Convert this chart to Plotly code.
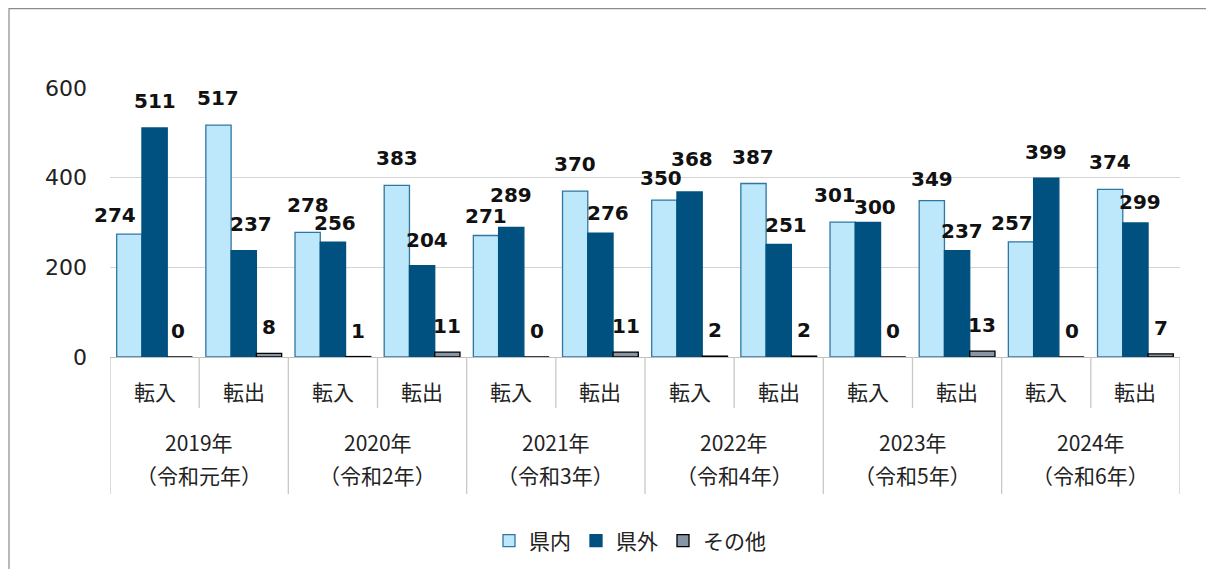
import plotly.graph_objects as go

years = ["2019年", "2020年", "2021年", "2022年", "2023年", "2024年"]
eras = ["（令和元年）", "（令和2年）", "（令和3年）", "（令和4年）", "（令和5年）", "（令和6年）"]
kinds = ["転入", "転出"]
kennai = [274, 517, 278, 383, 271, 370, 350, 387, 301, 349, 257, 374]
kengai = [511, 237, 256, 204, 289, 276, 368, 251, 300, 237, 399, 299]
sonota = [0, 8, 1, 11, 0, 11, 2, 2, 0, 13, 0, 7]

# label nudges (px) copied from the reference's hand-placed data labels
kennai_dx = [-14, 0, 0, 0, 0, 0, -3, 0, -8, 0, -9, 0]
kennai_dy = [19, 27, 27, 27, 20, 27, 22, 27, 27, 22, 19, 27]
kengai_dx = [0, 7, 2, 5, 0, 8, 2, 7, 7, 5, 0, 5]
kengai_dy = [27, 27, 19, 26, 32, 20, 33, 19, 16, 20, 26, 21]
sonota_dx = [-2, 0, 0, 0, 0, 0, 0, 0, 0, 0, 0, 0]
sonota_dy = [26] * 12

n = len(years) * len(kinds)
xs = list(range(n))

NUM = "DejaVu Sans, Verdana, sans-serif"
JP = "Noto Sans CJK JP, DejaVu Sans, sans-serif"

W, H = 1214, 569
PAGE_OFF = 8            # browser body margin
PL, PR, PT, PB = 110, 1180, 88, 357   # plot area in page pixels
PLOT_H = PB - PT
PLOT_W = PR - PL
BAR_PX = 25.3

series = [
    ("県内", kennai, "#BDE8FB", "#2F76A3", -BAR_PX, kennai_dx, kennai_dy),
    ("県外", kengai, "#00517F", "#00517F", 0, kengai_dx, kengai_dy),
    ("その他", sonota, "#8796A5", "#000000", BAR_PX, sonota_dx, sonota_dy),
]

fig = go.Figure()
annotations = []
for name, vals, fill, line, off, dxs, dys in series:
    fig.add_trace(go.Bar(
        name=name, x=xs, y=vals,
        marker=dict(color=fill, line=dict(color=line, width=1.3)),
        hoverinfo="x+y",
    ))
    for i, v in enumerate(vals):
        annotations.append(dict(
            x=i, y=v, xref="x", yref="y", text=f"<b>{v}</b>", showarrow=False,
            xshift=off + dxs[i], yshift=dys[i], yanchor="middle", xanchor="center",
            font=dict(family=NUM, size=20, color="#111111"),
        ))

def py(pix):
    return (PB - pix) / PLOT_H

def px(pix):
    return (pix - PL) / PLOT_W

for i in range(n):
    annotations.append(dict(x=i, y=py(391), xref="x", yref="paper", text=kinds[i % 2],
                            showarrow=False, yanchor="middle",
                            font=dict(family=JP, size=21, color="#222222")))
for j, (yr, era) in enumerate(zip(years, eras)):
    cx = j * 2 + 0.5
    annotations.append(dict(x=cx, y=py(442), xref="x", yref="paper", text=yr,
                            showarrow=False, yanchor="middle",
                            font=dict(family=JP, size=21, color="#222222")))
    annotations.append(dict(x=cx, y=py(475), xref="x", yref="paper", text=era,
                            showarrow=False, yanchor="middle",
                            font=dict(family=JP, size=21, color="#222222")))

shapes = []
for j in range(len(years) + 1):
    shapes.append(dict(type="line", xref="x", yref="paper", x0=j * 2 - 0.5, x1=j * 2 - 0.5,
                       y0=0, y1=py(494), line=dict(color="#C8C8C8", width=1.3)))
for j in range(len(years)):
    shapes.append(dict(type="line", xref="x", yref="paper", x0=j * 2 + 0.5, x1=j * 2 + 0.5,
                       y0=0, y1=py(408), line=dict(color="#C8C8C8", width=1.3)))
shapes.append(dict(type="rect", xref="paper", yref="paper",
                   x0=px(9), x1=px(1240), y0=py(600), y1=py(PAGE_OFF + 0.7),
                   line=dict(color="#8C8C8C", width=1.2), layer="below"))

fig.update_layout(
    width=W, height=H,
    margin=dict(l=PL - PAGE_OFF, r=W - (PR - PAGE_OFF), t=PT - PAGE_OFF,
                b=H - (PB - PAGE_OFF), autoexpand=False),
    barmode="group", bargap=0.15, bargroupgap=0,
    plot_bgcolor="white", paper_bgcolor="white",
    font=dict(family=JP, size=21, color="#222222"),
    showlegend=True,
    legend=dict(orientation="h", xref="container", yref="container",
                x=(630 - PAGE_OFF) / W, xanchor="center",
                y=1 - (541 - PAGE_OFF) / H, yanchor="middle",
                font=dict(family=JP, size=21, color="#222222"),
                itemwidth=30, tracegroupgap=0, bgcolor="rgba(0,0,0,0)"),
    xaxis=dict(range=[-0.5, n - 0.5], showticklabels=False, showgrid=False,
               zeroline=False, showline=True, linecolor="#BFBFBF", linewidth=1.3,
               ticks="", automargin=False, fixedrange=True),
    yaxis=dict(range=[0, 600], tickvals=[0, 200, 400, 600], showgrid=True,
               gridcolor="#D4D4D4", gridwidth=1.2, zeroline=False, showline=False,
               tickfont=dict(family=NUM, size=22, color="#222222"),
               ticklabelstandoff=22, automargin=False),
    annotations=annotations,
    shapes=shapes,
)

fig.write_html("out.html")
